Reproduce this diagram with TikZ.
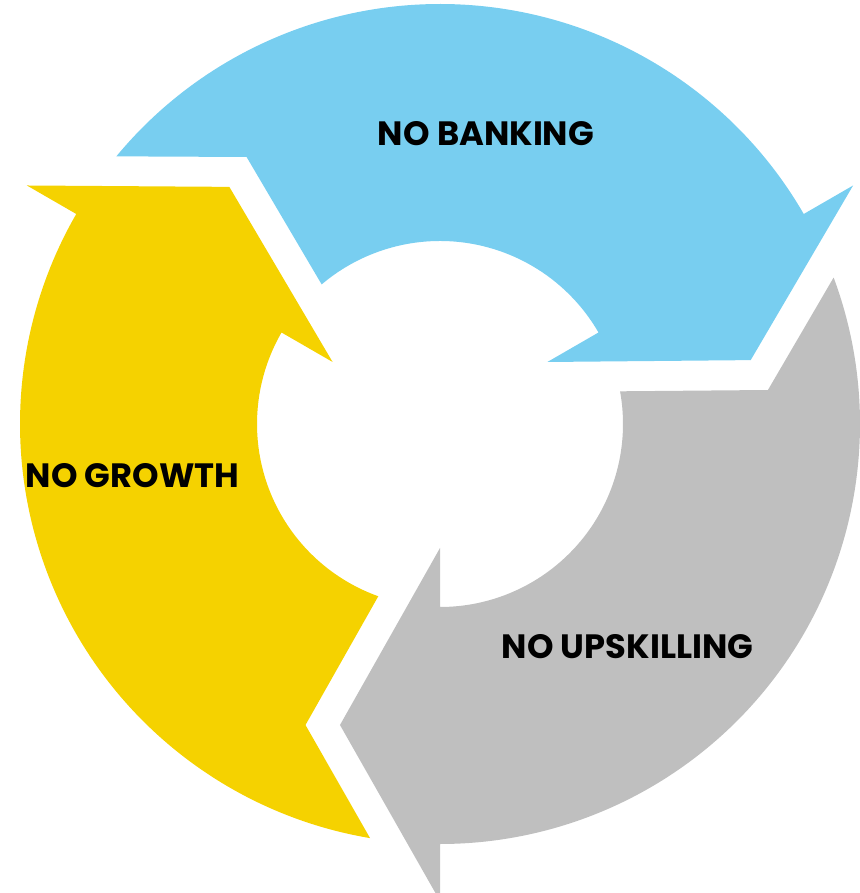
\documentclass[tikz,border=0pt]{standalone}
\usepackage{fontspec}
\setmainfont{Poppins}
\usepackage{tikz}

\definecolor{bankblue}{RGB}{120,206,240}
\definecolor{skillgray}{RGB}{191,191,191}
\definecolor{growthyellow}{RGB}{245,210,0}

\tikzset{cycletext/.style={font=\bfseries\fontsize{9.6}{11}\selectfont, text=black, inner sep=0pt}}

\begin{document}
\begin{tikzpicture}
        \useasboundingbox (-4.40,-4.69) rectangle (4.19,4.24);

        % top arrow
        \fill[bankblue] (140.41:4.2) arc[start angle=140.41, end angle=30, radius=4.2] -- (30:4.77) -- (11.62:3.172) -- (30:1.24) -- (30:1.83) arc[start angle=30, end angle=130.29, radius=1.83] -- (125.92:3.297) -- cycle;

        % left arrow
        \fill[growthyellow] (260.41:4.2) arc[start angle=260.41, end angle=150, radius=4.2] -- (150:4.77) -- (131.62:3.172) -- (150:1.24) -- (150:1.83) arc[start angle=150, end angle=250.29, radius=1.83] -- (245.92:3.297) -- cycle;

        % right arrow
        \fill[skillgray] (20.41:4.2) arc[start angle=20.41, end angle=-90, radius=4.2] -- (-90:4.77) -- (-108.38:3.172) -- (-90:1.24) -- (-90:1.83) arc[start angle=-90, end angle=10.29, radius=1.83] -- (5.92:3.297) -- cycle;

        \node[cycletext] (banking) at (0.46,2.90) {NO BANKING};
        \node[cycletext] (growth) at (-3.075,-0.515) {NO GROWTH};
        \node[cycletext] (upskilling) at (1.876,-2.225) {NO UPSKILLING};

    \end{tikzpicture}
\end{document}
